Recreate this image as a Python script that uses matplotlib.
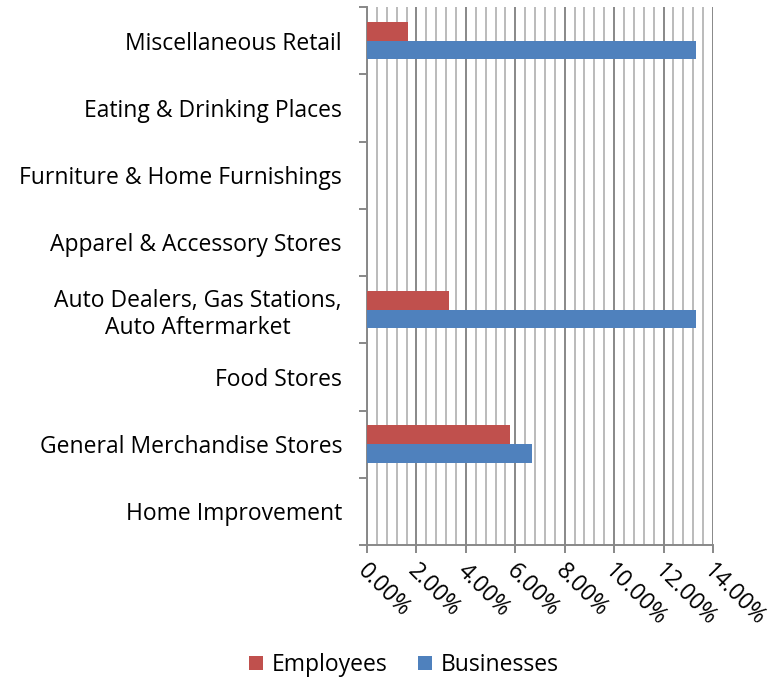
import matplotlib.pyplot as plt
import matplotlib.transforms as mtrans
import numpy as np
from matplotlib.ticker import MultipleLocator, FuncFormatter

# Datos (de abajo hacia arriba)
categorias = ["Home Improvement", "General Merchandise Stores", "Food Stores",
              "Auto Dealers, Gas Stations,\nAuto Aftermarket", "Apparel & Accessory Stores",
              "Furniture & Home Furnishings", "Eating & Drinking Places",
              "Miscellaneous Retail"]
empleados = [0, 5.79, 0, 3.31, 0, 0, 0, 1.67]
negocios = [0, 6.67, 0, 13.33, 0, 0, 0, 13.33]

rojo = '#C0504D'
azul = '#4F81BD'

plt.rcParams['font.family'] = ['Open Sans', 'DejaVu Sans']

fig = plt.figure(figsize=(7.73, 6.81), dpi=100)
ax = fig.add_axes([367/773, 1-545/681, 346/773, 538/681])

y = np.arange(len(categorias))
h = 0.28
ax.barh(y + h/2, empleados, height=h, color=rojo, label='Employees', zorder=3)
ax.barh(y - h/2, negocios, height=h, color=azul, label='Businesses', zorder=3)

ax.set_xlim(0, 14)
ax.set_ylim(-0.5, len(categorias) - 0.5)

# Rejilla
ax.xaxis.set_major_locator(MultipleLocator(2))
ax.xaxis.set_minor_locator(MultipleLocator(0.4))
ax.grid(True, axis='x', which='major', color='#888888', linewidth=1.4, zorder=0)
ax.grid(True, axis='x', which='minor', color='#bbbbbb', linewidth=1.4, zorder=0)
ax.xaxis.set_major_formatter(FuncFormatter(lambda v, p: f"{v:.2f}%"))
ax.tick_params(axis='x', which='major', direction='out', length=5.5, width=1.4,
               color='#888888', labelsize=16.5, pad=5)
ax.tick_params(axis='x', which='minor', length=0)
desplaza = mtrans.ScaledTranslation(3/100, 0, fig.dpi_scale_trans)
for lab in ax.get_xticklabels():
    lab.set_rotation(-45)
    lab.set_ha('left')
    lab.set_va('top')
    lab.set_rotation_mode('anchor')
    lab.set_transform(lab.get_transform() + desplaza)

# Eje y: etiquetas centradas, marcas en los limites
ax.set_yticks(y)
ax.set_yticklabels(categorias, multialignment='center')
ax.set_yticks(np.arange(-0.5, len(categorias)), minor=True)
ax.tick_params(axis='y', which='major', length=0, labelsize=16.5, pad=18)
ax.tick_params(axis='y', which='minor', direction='out', length=5.5, width=1.4,
               color='#888888')

for s in ['top', 'right']:
    ax.spines[s].set_visible(False)
for s in ['left', 'bottom']:
    ax.spines[s].set_color('#888888')
    ax.spines[s].set_linewidth(1.4)

handles, labels = ax.get_legend_handles_labels()
fig.legend(handles, labels, loc='center', bbox_to_anchor=(404/773, 1-665/681),
           ncol=2, frameon=False, fontsize=16.5, handlelength=0.6, handleheight=0.6,
           handletextpad=0.4, columnspacing=1.3)

plt.savefig('out.png', dpi=100)
